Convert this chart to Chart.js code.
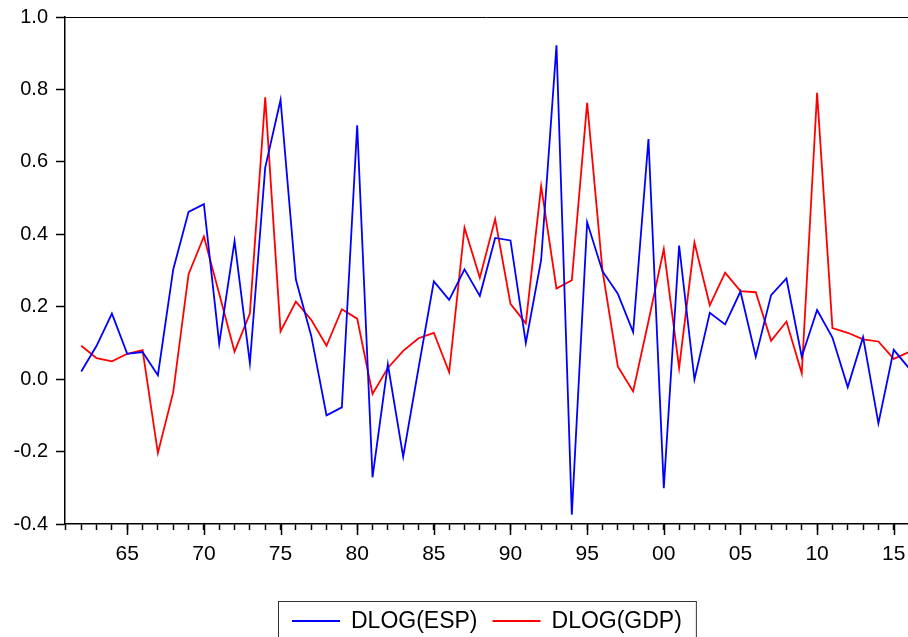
<!DOCTYPE html>
<html>
<head>
<meta charset="utf-8">
<script src="https://cdn.jsdelivr.net/npm/chart.js@4/dist/chart.umd.min.js"></script>
<style>
  body { margin: 0; background: #fff; }
  #wrap { width: 908px; height: 637px; }
</style>
</head>
<body>
<div id="wrap"><canvas id="c" width="908" height="637"></canvas></div>
<script>
// years 1962..2016
var years = [1962, 1963, 1964, 1965, 1966, 1967, 1968, 1969, 1970, 1971,
             1972, 1973, 1974, 1975, 1976, 1977, 1978, 1979, 1980, 1981,
             1982, 1983, 1984, 1985, 1986, 1987, 1988, 1989, 1990, 1991,
             1992, 1993, 1994, 1995, 1996, 1997, 1998, 1999, 2000, 2001,
             2002, 2003, 2004, 2005, 2006, 2007, 2008, 2009, 2010, 2011,
             2012, 2013, 2014, 2015, 2016];

var dlogEsp = [0.021, 0.092, 0.181, 0.070, 0.075, 0.011, 0.303, 0.462, 0.483, 0.098,
               0.381, 0.044, 0.584, 0.771, 0.275, 0.120, -0.100, -0.078, 0.701, -0.271,
               0.041, -0.214, 0.030, 0.270, 0.219, 0.303, 0.230, 0.390, 0.383, 0.100,
               0.329, 0.922, -0.374, 0.433, 0.298, 0.236, 0.130, 0.663, -0.301, 0.369,
               -0.001, 0.183, 0.151, 0.242, 0.062, 0.232, 0.278, 0.062, 0.191, 0.115,
               -0.022, 0.116, -0.122, 0.081, 0.030];

var dlogGdp = [0.092, 0.058, 0.049, 0.070, 0.080, -0.204, -0.036, 0.290, 0.394, 0.236,
               0.076, 0.181, 0.778, 0.132, 0.214, 0.164, 0.092, 0.193, 0.167, -0.041,
               0.031, 0.078, 0.113, 0.128, 0.019, 0.418, 0.280, 0.442, 0.208, 0.154,
               0.533, 0.250, 0.273, 0.763, 0.300, 0.035, -0.034, 0.160, 0.359, 0.031,
               0.377, 0.204, 0.294, 0.243, 0.240, 0.106, 0.159, 0.016, 0.791, 0.141,
               0.128, 0.110, 0.104, 0.056, 0.075];

var seriesNames = ['DLOG(ESP)', 'DLOG(GDP)'];
var seriesColors = ['#0000ff', '#ff0000'];

var FONT = '"Liberation Sans", Arial, sans-serif';

function toPoints(values) {
    return years.map(function(y, i) { return {x: y, y: values[i]}; });
}

// top border of the frame + longer ticks every 5 years
var framePlugin = {
    id: 'frame',
    afterDraw: function(chart) {
        var ctx = chart.ctx, a = chart.chartArea, xs = chart.scales.x;
        ctx.save();
        ctx.strokeStyle = '#000';
        ctx.lineWidth = 1;
        ctx.beginPath();
        ctx.moveTo(a.left, a.top + 0.5);
        ctx.lineTo(a.right, a.top + 0.5);
        ctx.stroke();
        ctx.lineWidth = 1.5;
        xs.ticks.forEach(function(t) {
            if (t.value % 5 === 0) {
                var px = Math.round(xs.getPixelForValue(t.value)) + 0.5;
                ctx.beginPath();
                ctx.moveTo(px, a.bottom);
                ctx.lineTo(px, a.bottom + 11);
                ctx.stroke();
            }
        });
        ctx.restore();
    }
};

// boxed legend under the chart
var legendPlugin = {
    id: 'boxLegend',
    afterDraw: function(chart) {
        var ctx = chart.ctx, a = chart.chartArea;
        var sets = chart.data.datasets;
        var lineLen = 48, gapText = 11, gapItem = 15, pad = 14;
        ctx.save();
        ctx.font = '23px ' + FONT;
        var widths = sets.map(function(d) { return ctx.measureText(d.label).width; });
        var total = pad * 2 + gapItem * (sets.length - 1);
        widths.forEach(function(w) { total += lineLen + gapText + w; });
        var left = Math.round((a.left + a.right) / 2 - total / 2);
        var top = 601, midY = 621;
        ctx.strokeStyle = '#333';
        ctx.lineWidth = 1;
        ctx.strokeRect(left + 0.5, top + 0.5, total, 60);
        var x = left + pad;
        ctx.textBaseline = 'middle';
        ctx.fillStyle = '#000';
        sets.forEach(function(d, i) {
            ctx.strokeStyle = d.borderColor;
            ctx.lineWidth = 2;
            ctx.beginPath();
            ctx.moveTo(x, midY);
            ctx.lineTo(x + lineLen, midY);
            ctx.stroke();
            x += lineLen + gapText;
            ctx.fillText(d.label, x, midY + 1);
            x += widths[i] + gapItem;
        });
        ctx.restore();
    }
};

var ctx = document.getElementById('c').getContext('2d');

var myChart = new Chart(ctx, {
    type: 'line',
    data: {
        datasets: [{
            label: seriesNames[0],
            data: toPoints(dlogEsp),
            borderColor: seriesColors[0],
            backgroundColor: seriesColors[0],
            borderWidth: 1.8,
            pointRadius: 0,
            tension: 0
        }, {
            label: seriesNames[1],
            data: toPoints(dlogGdp),
            borderColor: seriesColors[1],
            backgroundColor: seriesColors[1],
            borderWidth: 1.8,
            pointRadius: 0,
            tension: 0
        }]
    },
    options: {
        responsive: false,
        animation: false,
        layout: { padding: { top: 17, left: 0, right: 0, bottom: 0 } },
        plugins: {
            legend: { display: false },
            tooltip: { enabled: false }
        },
        scales: {
            x: {
                type: 'linear',
                min: 1960.94,
                max: 2015.93,
                afterFit: function(scale) {
                    scale.height = 113;
                    scale.paddingLeft = 0;
                    scale.paddingRight = 0;
                },
                ticks: {
                    stepSize: 1,
                    includeBounds: false,
                    autoSkip: false,
                    maxRotation: 0,
                    padding: 12,
                    color: '#000',
                    font: { family: FONT, size: 21 },
                    callback: function(v) {
                        if (v % 5 !== 0) return '';
                        var s = String(v % 100);
                        return s.length < 2 ? '0' + s : s;
                    }
                },
                grid: {
                    drawOnChartArea: false,
                    tickLength: 6,
                    tickColor: '#000',
                    tickWidth: 1.5
                },
                border: { color: '#000', width: 1.5 }
            },
            y: {
                min: -0.4,
                max: 1.0,
                afterFit: function(scale) {
                    scale.width = 65;
                    scale.paddingTop = 0;
                    scale.paddingBottom = 0;
                },
                ticks: {
                    stepSize: 0.2,
                    padding: 8,
                    color: '#000',
                    font: { family: FONT, size: 20 },
                    callback: function(v) {
                        if (Math.abs(v) < 1e-9) return '0.0';
                        return v.toFixed(1);
                    }
                },
                grid: {
                    drawOnChartArea: false,
                    tickLength: 9,
                    tickColor: '#000',
                    tickWidth: 1.5
                },
                border: { color: '#000', width: 1.5 }
            }
        }
    },
    plugins: [framePlugin, legendPlugin]
});
</script>
</body>
</html>
